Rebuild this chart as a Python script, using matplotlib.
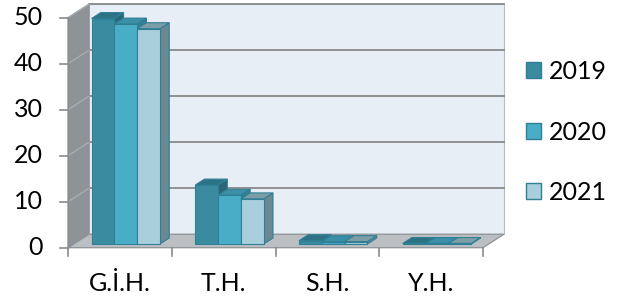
import matplotlib
matplotlib.use("Agg")
import matplotlib.pyplot as plt
from matplotlib.patches import Polygon, Patch

categories = ["G.İ.H.", "T.H.", "S.H.", "Y.H."]
series_names = ["2019", "2020", "2021"]
values_2019 = [49.0, 12.8, 0.7, 0.1]
values_2020 = [47.8, 10.6, 0.5, 0.1]
values_2021 = [46.8, 9.8, 0.5, 0.1]
y_ticks = [0, 10, 20, 30, 40, 50]

series = [values_2019, values_2020, values_2021]
front_cols = ["#3a8aa0", "#4aadc7", "#a9cfdc"]
top_cols = ["#2e7285", "#3b8fa6", "#7d9ea8"]
side_cols = ["#2b6676", "#357f93", "#6a8892"]
edge_col = "#2f7f95"

plt.rcParams['font.family'] = ['Lato', 'DejaVu Sans']
FS = 18

fig = plt.figure(figsize=(6.2, 3.0), dpi=100)
ax = fig.add_axes([68/620, 1-247.7/300, 415/620, 230/300])
ax.set_xlim(0, len(categories))
ax.set_ylim(0, 50)
ax.axis("off")

DX = 0.2024   # depth offset in category units
DY = 2.93     # depth offset in value units
YMAX = y_ticks[-1]
NC = len(categories)

def poly(pts, fc, ec="none", lw=0.0, z=1):
    p = Polygon(pts, closed=True, facecolor=fc, edgecolor=ec, linewidth=lw,
                zorder=z, clip_on=False, joinstyle="miter")
    ax.add_patch(p)

# walls and floor
poly([(DX, DY), (NC+DX, DY), (NC+DX, YMAX+DY), (DX, YMAX+DY)], "#e8eef6", "#b8bcc0", 0.8, 0)
poly([(0, 0), (DX, DY), (DX, YMAX+DY), (0, YMAX)], "#8f9397", "#8a8e92", 0.8, 0)
poly([(0, 0), (NC, 0), (NC+DX, DY), (DX, DY)], "#bcbfc2", "#8f9397", 0.9, 0)

# gridlines
for t in y_ticks[1:]:
    ax.plot([DX, NC+DX], [t+DY, t+DY], color="#8a8a8a", lw=1.3, zorder=0.5, clip_on=False)
    ax.plot([0, DX], [t, t+DY], color="#a9adb1", lw=1.0, zorder=0.5, clip_on=False)
# front edge of left wall
ax.plot([0, 0], [0, YMAX], color="#8a8e92", lw=1.0, zorder=0.6, clip_on=False)

# y ticks and labels
px_x = 1.0 / 103.75
for t in y_ticks:
    ax.plot([-8*px_x, 0], [t, t], color="#8a8a8a", lw=1.2, clip_on=False, zorder=0.6)
    ax.text(-25*px_x, t, str(t), ha="right", va="center", fontsize=FS, color="black")

# category ticks and labels
for i in range(NC+1):
    ax.plot([i, i], [0, -8/4.6], color="#8a8a8a", lw=1.2, clip_on=False, zorder=0.6)
for i, c in enumerate(categories):
    ax.text(i+0.5, -36/4.6, c, ha="center", va="center", fontsize=FS, color="black")

# bars
W = 0.22
start = 0.17
z0, z1 = 0.28, 0.72
for i in range(NC):
    for j, vals in enumerate(series):
        v = vals[i]
        x0 = i + start + j*W
        x1 = x0 + W
        fx0, fx1, fy0 = x0 + z0*DX, x1 + z0*DX, z0*DY
        bx0, bx1, by0 = x0 + z1*DX, x1 + z1*DX, z1*DY
        zz = 2 + i*3 + j
        poly([(fx1, fy0), (bx1, by0), (bx1, v+by0), (fx1, v+fy0)], side_cols[j], edge_col, 0.8, zz)
        poly([(fx0, v+fy0), (fx1, v+fy0), (bx1, v+by0), (bx0, v+by0)], top_cols[j], edge_col, 0.8, zz)
        poly([(fx0, fy0), (fx1, fy0), (fx1, v+fy0), (fx0, v+fy0)], front_cols[j], edge_col, 0.8, zz)

# legend
handles = [Patch(facecolor=front_cols[j], edgecolor=edge_col, linewidth=1.0) for j in range(3)]
fig.legend(handles, series_names, loc="upper left", bbox_to_anchor=(526/620, 1-60/300),
           frameon=False, fontsize=FS, handlelength=0.6, handleheight=0.6,
           handletextpad=0.3, labelspacing=1.5, borderpad=0, borderaxespad=0)

fig.savefig("out.png", dpi=100)
